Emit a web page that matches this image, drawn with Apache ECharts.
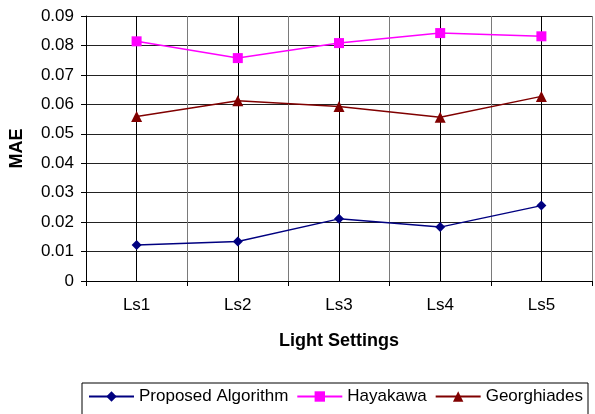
<!DOCTYPE html>
<html>
<head>
<meta charset="utf-8">
<script src="https://cdn.jsdelivr.net/npm/echarts@6/dist/echarts.min.js"></script>
<style>
  html, body { margin: 0; padding: 0; background: #fff; }
  #chart { width: 595px; height: 414px; }
</style>
</head>
<body>
<div id="chart"></div>
<script>
// Mean absolute error per light setting
const categories = ['Ls1', 'Ls2', 'Ls3', 'Ls4', 'Ls5'];
const proposed = [0.0122, 0.0134, 0.0211, 0.0183, 0.0256];
const hayakawa = [0.0814, 0.0757, 0.0808, 0.0842, 0.0831];
const georghiades = [0.0559, 0.0612, 0.0593, 0.0556, 0.0627];

const FONT = '"Liberation Sans", Arial, sans-serif';
const FS = 17;

const chart = echarts.init(document.getElementById('chart'), null, { renderer: 'canvas' });

chart.setOption({
  backgroundColor: '#fff',
  animation: false,
  textStyle: { fontFamily: FONT },
  grid: { left: 86, right: 3, top: 16, bottom: 133, containLabel: false },
  legend: {
    left: 82,
    top: 383,
    orient: 'horizontal',
    borderColor: '#000',
    borderWidth: 1,
    padding: [5, 5, 12, 6],
    itemGap: 8,
    itemWidth: 45,
    itemHeight: 13,
    textStyle: { fontFamily: FONT, fontSize: FS, color: '#000' },
    data: ['Proposed Algorithm', 'Hayakawa', 'Georghiades']
  },
  xAxis: [
    {
      type: 'category',
      data: categories,
      boundaryGap: true,
      name: 'Light Settings',
      nameLocation: 'middle',
      nameGap: 51,
      nameTextStyle: { fontFamily: FONT, fontSize: 18, fontWeight: 'bold', color: '#000' },
      axisLine: { show: true, lineStyle: { color: '#000', width: 1 } },
      axisTick: { show: true, alignWithLabel: false, length: 5, lineStyle: { color: '#000' } },
      axisLabel: { fontFamily: FONT, fontSize: FS, color: '#000', margin: 16 },
      splitLine: { show: false }
    },
    {
      // half-category grid: boundaries in grey, category centres in black
      type: 'value',
      min: 0,
      max: 10,
      interval: 1,
      show: true,
      position: 'bottom',
      axisLine: { show: false },
      axisTick: { show: false },
      axisLabel: { show: false },
      splitLine: { show: true, lineStyle: { color: ['#7a7a7a', '#000'], width: 1 } }
    }
  ],
  yAxis: {
    type: 'value',
    min: 0,
    max: 0.09,
    interval: 0.01,
    name: 'MAE',
    nameLocation: 'middle',
    nameGap: 60,
    nameRotate: 90,
    nameTextStyle: { fontFamily: FONT, fontSize: 18, fontWeight: 'bold', color: '#000' },
    axisLine: { show: true, lineStyle: { color: '#000', width: 1 } },
    axisTick: { show: true, length: 5, lineStyle: { color: '#000' } },
    axisLabel: {
      fontFamily: FONT, fontSize: FS, color: '#000', margin: 12,
      formatter: v => (v === 0 ? '0' : v.toFixed(2))
    },
    splitLine: { show: true, lineStyle: { color: '#222', width: 1 } }
  },
  series: [
    {
      name: 'Proposed Algorithm',
      type: 'line',
      xAxisIndex: 0,
      data: proposed,
      symbol: 'diamond',
      symbolSize: 10,
      color: '#000080',
      lineStyle: { color: '#000080', width: 1.5 },
      itemStyle: { color: '#000080' }
    },
    {
      name: 'Hayakawa',
      type: 'line',
      xAxisIndex: 0,
      data: hayakawa,
      symbol: 'rect',
      symbolSize: 10,
      color: '#ff00ff',
      lineStyle: { color: '#ff00ff', width: 1.5 },
      itemStyle: { color: '#ff00ff' }
    },
    {
      name: 'Georghiades',
      type: 'line',
      xAxisIndex: 0,
      data: georghiades,
      symbol: 'triangle',
      symbolSize: 11,
      color: '#800000',
      lineStyle: { color: '#800000', width: 1.5 },
      itemStyle: { color: '#800000' }
    }
  ]
});
</script>
</body>
</html>
